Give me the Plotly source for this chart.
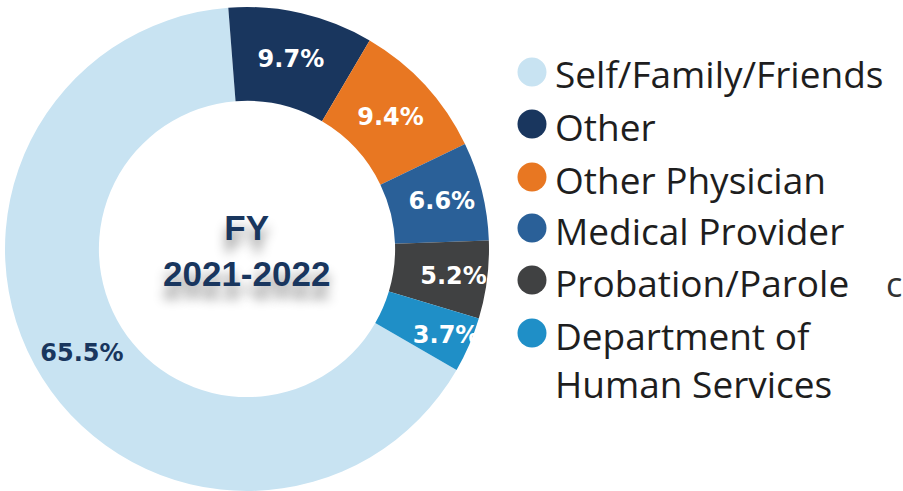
import plotly.graph_objects as go

labels = ["Self/Family/Friends", "Other", "Other Physician", "Medical Provider",
          "Probation/Parole", "Department of Human Services"]
legend_labels = ["Self/Family/Friends", "Other", "Other Physician", "Medical Provider",
                 "Probation/Parole", "Department of<br>Human Services"]
values = [65.5, 9.7, 9.4, 6.6, 5.2, 3.7]
value_text = ["65.5%", "9.7%", "9.4%", "6.6%", "5.2%", "3.7%"]
colors = ["#c8e3f2", "#19365e", "#e87722", "#2a6098", "#404142", "#1f8fc7"]
label_colors = ["#19365e", "#ffffff", "#ffffff", "#ffffff", "#ffffff", "#ffffff"]
center_title = "FY<br>2021-2022"

W, H = 903, 491

fig = go.Figure()
fig.add_trace(go.Pie(
    labels=labels,
    values=values,
    text=value_text,
    textinfo="text",
    textposition="inside",
    insidetextorientation="horizontal",
    insidetextfont=dict(family="DejaVu Sans", size=24, color=label_colors, weight="bold"),
    marker=dict(colors=colors, line=dict(width=0)),
    hole=0.612,
    sort=False,
    direction="clockwise",
    rotation=120,
    showlegend=False,
    hoverinfo="label+text",
    domain=dict(x=[5 / W, 489 / W], y=[0, 1 - 7 / H]),
))

# center title
fig.add_annotation(
    x=247 / W, y=1 - 250 / H, xref="paper", yref="paper",
    text=center_title, showarrow=False,
    font=dict(family="Liberation Sans", size=35, color="#19365e", weight="bold",
              shadow="0px 12px 12px rgba(0,0,0,0.45)"),
    align="center", xanchor="center", yanchor="middle",
)

# custom legend with large circle markers
row_y = [72, 124, 177, 228, 280, 333]
mx, tx = 532, 553
fs = 37
for lab, col, py in zip(legend_labels, colors, row_y):
    fig.add_shape(
        type="circle", xref="paper", yref="paper",
        xsizemode="pixel", ysizemode="pixel",
        xanchor=mx / W, yanchor=1 - py / H,
        x0=-14.5, x1=14.5, y0=-14.5, y1=14.5,
        fillcolor=col, line=dict(width=0),
    )
    n_lines = lab.count("<br>") + 1
    center_y = py + 2 + (n_lines - 1) * fs * 1.3 / 2
    fig.add_annotation(
        x=tx / W, y=1 - center_y / H, xref="paper", yref="paper",
        text=lab, showarrow=False, xanchor="left", yanchor="middle", align="left",
        font=dict(family="Open Sans", size=fs, color="#1e1e1e"),
    )

# clipped character at the right edge of the original image
fig.add_annotation(
    x=884 / W, y=1 - 284 / H, xref="paper", yref="paper",
    text="c", showarrow=False, xanchor="left", yanchor="middle",
    font=dict(family="Open Sans", size=34, color="#333333"),
)

fig.update_layout(
    width=W, height=H,
    margin=dict(l=0, r=0, t=0, b=0),
    paper_bgcolor="white", plot_bgcolor="white",
    uniformtext=dict(minsize=24, mode="show"),
)

fig.write_html("out.html", config={"displayModeBar": False},
               post_script="document.body.style.margin='0';")
